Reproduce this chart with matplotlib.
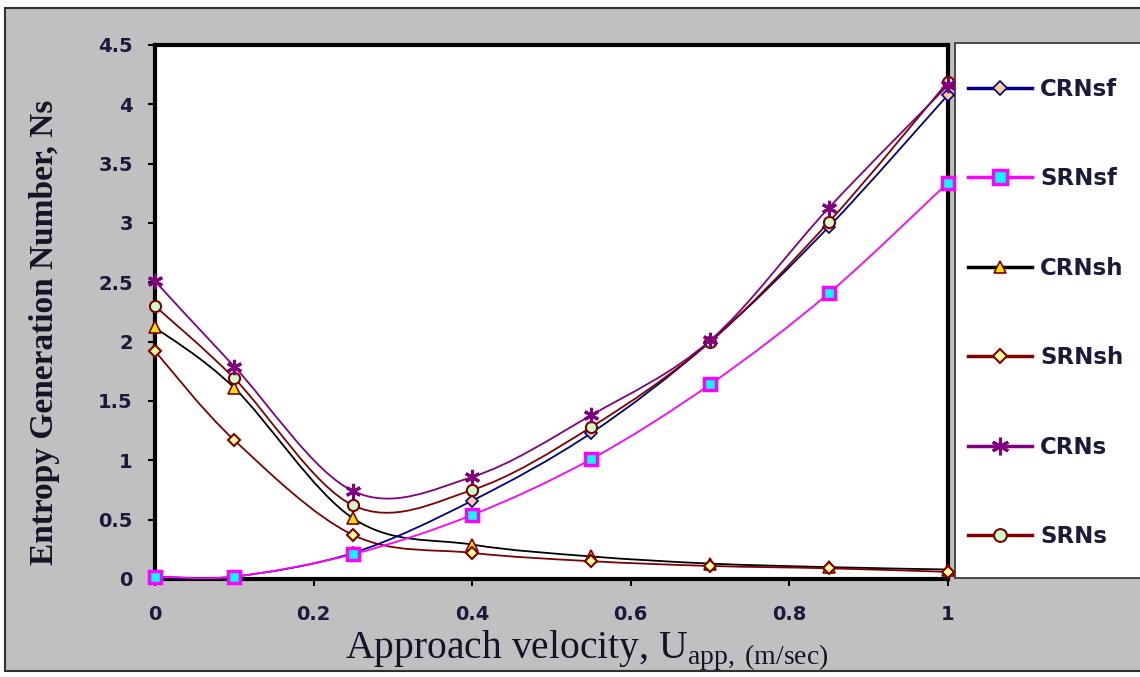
import matplotlib
matplotlib.use('Agg')
import matplotlib.pyplot as plt
from matplotlib.path import Path
from matplotlib.patches import PathPatch, Rectangle
from matplotlib.lines import Line2D
import numpy as np

plt.rcParams['mathtext.fontset'] = 'custom'
plt.rcParams['mathtext.rm'] = 'Liberation Serif'

# ---- data ----
velocity = [0.0, 0.1, 0.25, 0.4, 0.55, 0.7, 0.85, 1.0]
CRNsf = [0.02, 0.02, 0.22, 0.66, 1.23, 2.00, 2.97, 4.08]
SRNsf = [0.02, 0.02, 0.21, 0.54, 1.01, 1.64, 2.41, 3.34]
CRNsh = [2.12, 1.61, 0.51, 0.29, 0.19, 0.13, 0.10, 0.08]
SRNsh = [1.92, 1.17, 0.37, 0.22, 0.15, 0.11, 0.09, 0.06]
CRNs = [2.51, 1.79, 0.74, 0.86, 1.38, 2.01, 3.13, 4.16]
SRNs = [2.30, 1.69, 0.62, 0.75, 1.28, 2.00, 3.01, 4.19]

series_names = ['CRNsf', 'SRNsf', 'CRNsh', 'SRNsh', 'CRNs', 'SRNs']
series_values = [CRNsf, SRNsf, CRNsh, SRNsh, CRNs, SRNs]

x_ticks = [0, 0.2, 0.4, 0.6, 0.8, 1.0]
x_ticklabels = ['0', '0.2', '0.4', '0.6', '0.8', '1']
y_ticks = [0, 0.5, 1, 1.5, 2, 2.5, 3, 3.5, 4, 4.5]
y_ticklabels = ['0', '0.5', '1', '1.5', '2', '2.5', '3', '3.5', '4', '4.5']

# ---- styles ----
styles = {
    'CRNsf': dict(color='#000080', marker='D', ms=6, mfc='#FFCC99', mec='#000080', mew=1.2),
    'SRNsf': dict(color='#FF00FF', marker='s', ms=8.5, mfc='#00FFFF', mec='#FF00FF', mew=2.5),
    'CRNsh': dict(color='#000000', marker='^', ms=8, mfc='#FFE000', mec='#800000', mew=1.2),
    'SRNsh': dict(color='#800000', marker='D', ms=6, mfc='#FFFF99', mec='#800000', mew=1.5),
    'CRNs':  dict(color='#800080', marker=(6, 2, 0), ms=11, mfc='#800080', mec='#800080', mew=2.2),
    'SRNs':  dict(color='#800000', marker='o', ms=8, mfc='#CCFFCC', mec='#800000', mew=1.5),
}

W, H = 1140, 677
fig = plt.figure(figsize=(W / 100, H / 100), dpi=100)
fig.patch.set_facecolor('white')

def fx(px):
    return px / W

def fy(py):
    return 1 - py / H

# outer gray panel
fig.patches.append(Rectangle((fx(5), fy(671)), fx(1200), (671 - 8) / H,
                             transform=fig.transFigure, facecolor='#C0C0C0',
                             edgecolor='#303030', lw=1.5, zorder=-3))
# legend panel
fig.patches.append(Rectangle((fx(955), fy(578)), fx(300), (578 - 43) / H,
                             transform=fig.transFigure, facecolor='white',
                             edgecolor='#303030', lw=1.2, zorder=-2))

ax = fig.add_axes([fx(155), fy(579), 793 / W, 534 / H])
ax.set_facecolor('white')
ax.set_zorder(1)


def smooth_path(xs, ys):
    pts = np.column_stack([xs, ys]).astype(float)
    n = len(pts)
    verts = [pts[0]]
    codes = [Path.MOVETO]
    for i in range(n - 1):
        p0 = pts[i - 1] if i > 0 else pts[i]
        p1 = pts[i]
        p2 = pts[i + 1]
        p3 = pts[i + 2] if i + 2 < n else pts[i + 1]
        c1 = p1 + (p2 - p0) / 6.0
        c2 = p2 - (p3 - p1) / 6.0
        verts += [c1, c2, p2]
        codes += [Path.CURVE4] * 3
    return Path(verts, codes)


order = ['CRNsh', 'SRNsh', 'CRNsf', 'SRNsf', 'SRNs', 'CRNs']
for k, name in enumerate(order):
    vals = series_values[series_names.index(name)]
    st = styles[name]
    patch = PathPatch(smooth_path(velocity, vals), facecolor='none',
                      edgecolor=st['color'], lw=1.3, zorder=2 + k)
    ax.add_patch(patch)
for k, name in enumerate(order):
    vals = series_values[series_names.index(name)]
    st = styles[name]
    ax.plot(velocity, vals, linestyle='none', marker=st['marker'], ms=st['ms'],
            mfc=st['mfc'], mec=st['mec'], mew=st['mew'], clip_on=False, zorder=10 + k)

ax.set_xlim(0, 1)
ax.set_ylim(0, 4.5)
for sp in ax.spines.values():
    sp.set_linewidth(3)
    sp.set_color('black')

tick_color = '#1a1a3a'
ax.set_xticks(x_ticks)
ax.set_xticklabels(x_ticklabels, fontfamily='DejaVu Sans', fontweight='bold',
                   fontsize=14, color=tick_color)
ax.set_yticks(y_ticks)
ax.set_yticklabels(y_ticklabels, fontfamily='DejaVu Sans', fontweight='bold',
                   fontsize=14, color=tick_color)
ax.tick_params(axis='x', direction='out', length=5, width=1.5, pad=14)
ax.tick_params(axis='y', direction='out', length=5, width=1.5, pad=11)

# axis labels
fig.text(fx(45), fy(332), 'Entropy Generation Number, Ns', rotation=90,
         ha='center', va='center', fontfamily='Liberation Serif',
         fontweight='bold', fontsize=24, color='#141428')
fig.text(fx(345), fy(658), 'Approach velocity, U$_{\\mathrm{app,\\,(m/sec)}}$',
         ha='left', va='baseline', fontfamily='Liberation Serif',
         fontsize=28.5, color='#141428', zorder=20)

# legend
handles = []
for name in series_names:
    st = styles[name]
    handles.append(Line2D([0], [0], color=st['color'], lw=2.5, marker=st['marker'],
                          ms=st['ms'] * 1.15, mfc=st['mfc'], mec=st['mec'], mew=st['mew']))
leg = fig.legend(handles, series_names, loc='upper left',
                 bbox_to_anchor=(fx(968), fy(78)), bbox_transform=fig.transFigure,
                 frameon=False, borderpad=0, borderaxespad=0,
                 handlelength=2.8, handletextpad=0.35, labelspacing=2.90,
                 prop=dict(family='DejaVu Sans', weight='bold', size=16.5))
for t in leg.get_texts():
    t.set_color('#1a1a3a')
leg.set_zorder(5)

fig.savefig('out.png', dpi=100)
